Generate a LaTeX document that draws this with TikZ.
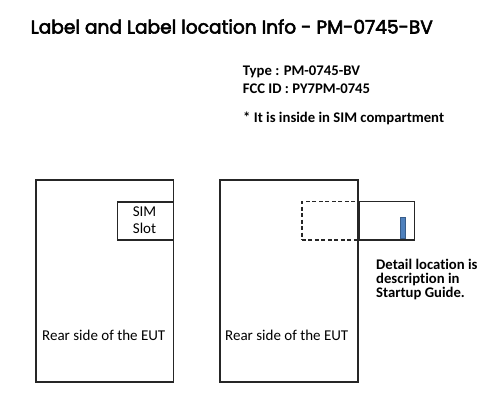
\documentclass[tikz,border=0pt]{standalone}
\usepackage{fontspec}
\setmainfont{Carlito}[Ligatures=NoCommon]
\newfontfamily\titlefont{Poppins}[FakeBold=3]
\begin{document}
\begin{tikzpicture}[x=1pt,y=1pt,
  box/.style={draw=black!85,line width=1.5pt},
  txt/.style={inner sep=0pt,anchor=base west},
  boldtxt/.style={txt,font=\bfseries\fontsize{14.7}{18}\selectfont},
  plain/.style={txt,font=\fontsize{15}{16.7}\selectfont}]
\useasboundingbox (0,0) rectangle (500,-413);
\fill[white] (0,0) rectangle (500,-413);
% title
\node[txt,font=\titlefont\fontsize{18.6}{20}\selectfont] (title) at (30.5,-33.5) {Label and Label location Info - PM-0745-BV};
\node[boldtxt] (type) at (242.7,-75) {Type : PM-0745-BV};
\node[boldtxt] (fcc) at (242.7,-93) {FCC ID : PY7PM-0745};
\node[boldtxt] (note) at (243,-122) {* It is inside in SIM compartment};
% left device
\node[box,minimum width=137.7pt,minimum height=202pt,inner sep=0pt,anchor=north west] (left) at (35,-179) {};
\node[box,minimum width=56pt,minimum height=38.3pt,inner sep=0pt,anchor=north east] (slot) at (left.north east |- 0,-201) {};
\node[txt,anchor=base,font=\fontsize{15}{16.7}\selectfont] (sim) at (144.5,-216.7) {SIM};
\node[txt,anchor=base,font=\fontsize{15}{16.7}\selectfont] (slottxt) at (144.5,-233.3) {Slot};
\node[plain] (rearl) at (42,-340) {Rear side of the EUT};
% right device
\node[box,minimum width=138pt,minimum height=202pt,inner sep=0pt,anchor=north west] (right) at (219.3,-179) {};
\node[draw=black!85,line width=1.5pt,dashed,dash pattern=on 4pt off 2.5pt,minimum width=56.3pt,minimum height=38.3pt,inner sep=0pt,anchor=north east] (dslot) at (right.north east |- 0,-200.7) {};
\node[box,minimum width=54.7pt,minimum height=38.3pt,inner sep=0pt,anchor=north west] (oslot) at (right.north east |- 0,-200.7) {};
\node[draw={rgb,255:red,56;green,93;blue,138},fill={rgb,255:red,79;green,129;blue,189},line width=0.6pt,minimum width=4.6pt,minimum height=21pt,inner sep=0pt,anchor=south west] (label) at (400.2,-239) {};
\node[plain] (rearr) at (225,-340) {Rear side of the EUT};
\node[txt,font=\bfseries\fontsize{14.7}{14.2}\selectfont,align=left,anchor=north west] (detail) at (376,-259) {Detail location is\\description in\\Startup Guide.};
\end{tikzpicture}
\end{document}
